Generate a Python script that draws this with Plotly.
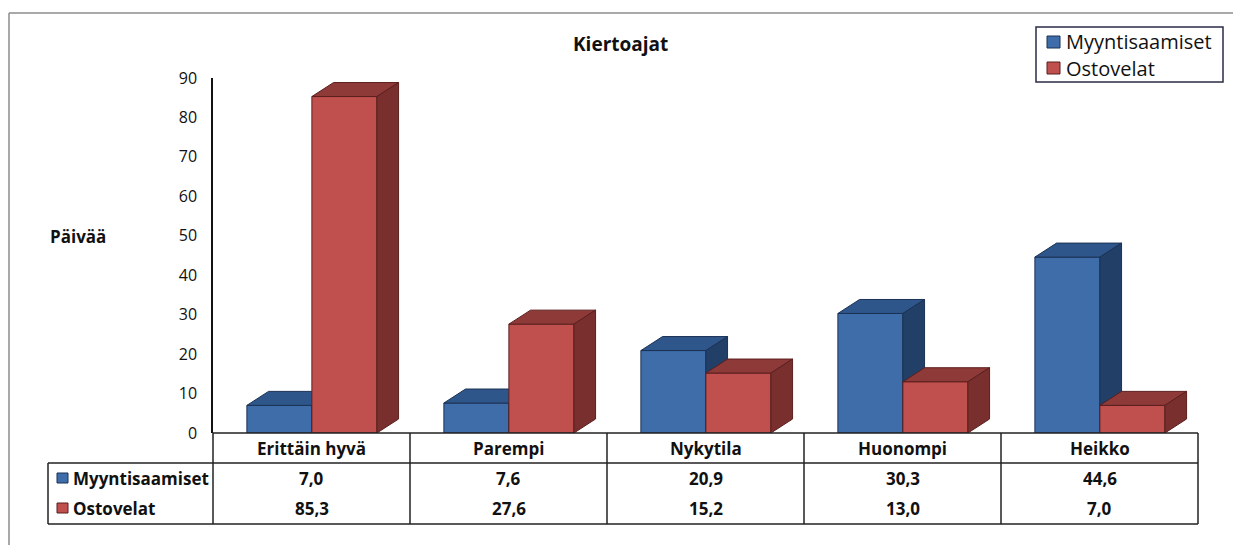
import plotly.graph_objects as go

# ---------------- data ----------------
categories = ["Erittäin hyvä", "Parempi", "Nykytila", "Huonompi", "Heikko"]
series_names = ["Myyntisaamiset", "Ostovelat"]
myyntisaamiset = [7.0, 7.6, 20.9, 30.3, 44.6]
ostovelat = [85.3, 27.6, 15.2, 13.0, 7.0]
y_ticks = [0, 10, 20, 30, 40, 50, 60, 70, 80, 90]
title_text = "Kiertoajat"
y_label = "Päivää"

# ---------------- styling / geometry ----------------
W, H = 1233, 545
L, R, T, B = 213, 1198, 78, 433  # plot-area pixel box
FONT = "'Open Sans', Lato, sans-serif"

colors = {
    "Myyntisaamiset": dict(front="#3E6DAA", top="#2F568A", side="#223F68", edge="#1B3254"),
    "Ostovelat": dict(front="#C0504D", top="#8E3A38", side="#782F2D", edge="#5A1F1E"),
}

ymax = 90
bar_w = 0.33        # front face width (category units)
first_off = 0.172   # blue front left edge offset within category
dx = 0.11           # depth offset in x (category units)
dy = 3.55           # depth offset in y (value units)


def px_x(px):
    return (px - L) / (R - L)


def px_y(py):
    return (B - py) / (B - T)


def fmt(v):
    return f"{v:.1f}".replace(".", ",")


def ann(x, y, text, size, anchor="center", color="#111111"):
    return dict(x=px_x(x), y=px_y(y), xref="paper", yref="paper", text=text,
                xanchor=anchor, yanchor="middle", showarrow=False,
                font=dict(size=size, color=color, family=FONT))


fig = go.Figure()

series = [(series_names[0], myyntisaamiset), (series_names[1], ostovelat)]
for s_idx, (name, vals) in enumerate(series):
    c = colors[name]
    fx, fy, tx, ty, sx, sy = [], [], [], [], [], []
    for i, v in enumerate(vals):
        x0 = i + first_off + s_idx * bar_w
        x1 = x0 + bar_w
        fx += [x0, x0, x1, x1, x0, None]
        fy += [0, v, v, 0, 0, None]
        tx += [x0, x0 + dx, x1 + dx, x1, x0, None]
        ty += [v, v + dy, v + dy, v, v, None]
        sx += [x1, x1, x1 + dx, x1 + dx, x1, None]
        sy += [0, v, v + dy, dy, 0, None]
    for xs, ys, col in ((fx, fy, c["front"]), (tx, ty, c["top"]), (sx, sy, c["side"])):
        fig.add_trace(go.Scatter(
            x=xs, y=ys, mode="lines", fill="toself", fillcolor=col,
            line=dict(color=c["edge"], width=1), name=name,
            showlegend=False, hoverinfo="skip",
        ))

shapes = []
annotations = []
line_col = "#222222"

# outer frame
shapes.append(dict(type="line", xref="paper", yref="paper",
                   x0=px_x(9), x1=px_x(W + 5), y0=px_y(13), y1=px_y(13),
                   line=dict(color="#8C8C8C", width=1.5)))
shapes.append(dict(type="line", xref="paper", yref="paper",
                   x0=px_x(9), x1=px_x(9), y0=px_y(13), y1=px_y(H + 5),
                   line=dict(color="#8C8C8C", width=1.5)))

# data table lines
n = len(categories)
cat_px = [L + (R - L) * k / n for k in range(n + 1)]
row_y = [433, 463, 524]
tbl_left = 48
shapes.append(dict(type="line", xref="paper", yref="paper", x0=px_x(L), x1=px_x(R),
                   y0=px_y(row_y[0]), y1=px_y(row_y[0]), line=dict(color=line_col, width=1.5)))
for yy in row_y[1:]:
    shapes.append(dict(type="line", xref="paper", yref="paper", x0=px_x(tbl_left), x1=px_x(R),
                       y0=px_y(yy), y1=px_y(yy), line=dict(color=line_col, width=1.5)))
for xp in cat_px:
    shapes.append(dict(type="line", xref="paper", yref="paper", x0=px_x(xp), x1=px_x(xp),
                       y0=px_y(row_y[0]), y1=px_y(row_y[2]), line=dict(color=line_col, width=1.5)))
shapes.append(dict(type="line", xref="paper", yref="paper", x0=px_x(tbl_left), x1=px_x(tbl_left),
                   y0=px_y(row_y[1]), y1=px_y(row_y[2]), line=dict(color=line_col, width=1.5)))

# table text
for k, cat in enumerate(categories):
    cx = (cat_px[k] + cat_px[k + 1]) / 2
    annotations.append(ann(cx, 448, f"<b>{cat}</b>", 17))
    annotations.append(ann(cx, 478, f"<b>{fmt(myyntisaamiset[k])}</b>", 17))
    annotations.append(ann(cx, 508, f"<b>{fmt(ostovelat[k])}</b>", 17))

# table row headers with swatches
for name, yc in ((series_names[0], 478), (series_names[1], 508)):
    c = colors[name]
    shapes.append(dict(type="rect", xref="paper", yref="paper",
                       x0=px_x(57), x1=px_x(68), y0=px_y(yc - 5), y1=px_y(yc + 5),
                       fillcolor=c["front"], line=dict(color=c["edge"], width=1)))
    annotations.append(ann(71, yc, f"<b>{name}</b>", 17, anchor="left"))

# legend box
shapes.append(dict(type="rect", xref="paper", yref="paper",
                   x0=px_x(1036), x1=px_x(1223), y0=px_y(27), y1=px_y(82),
                   line=dict(color="#2B2B45", width=1.5), fillcolor="white"))
for name, yc in ((series_names[0], 42), (series_names[1], 68)):
    c = colors[name]
    shapes.append(dict(type="rect", xref="paper", yref="paper",
                       x0=px_x(1047), x1=px_x(1060), y0=px_y(yc - 6), y1=px_y(yc + 6),
                       fillcolor=c["front"], line=dict(color=c["edge"], width=1)))
    annotations.append(ann(1064, yc, name, 20, anchor="left"))

# title and y label
annotations.append(ann(620, 44, f"<b>{title_text}</b>", 19))
annotations.append(ann(78, 237, f"<b>{y_label}</b>", 17))

fig.update_layout(
    width=W, height=H,
    margin=dict(l=L, r=W - R, t=T, b=H - B, pad=0),
    paper_bgcolor="white", plot_bgcolor="white",
    showlegend=False,
    shapes=shapes, annotations=annotations,
    font=dict(family=FONT, color="#111111"),
)
fig.update_xaxes(range=[0, n], showgrid=False, zeroline=False, showline=False,
                 showticklabels=False, ticks="", fixedrange=True)
fig.update_yaxes(range=[0, ymax], tickvals=y_ticks, ticktext=[str(t) for t in y_ticks],
                 showgrid=False, zeroline=False, showline=True, linecolor="#111111", linewidth=1.5,
                 ticks="", ticklabelstandoff=11, tickfont=dict(size=16, color="#111111", family=FONT),
                 fixedrange=True)

fig.write_html("out.html", config={"displayModeBar": False},
               post_script="document.body.style.margin='0px';")
